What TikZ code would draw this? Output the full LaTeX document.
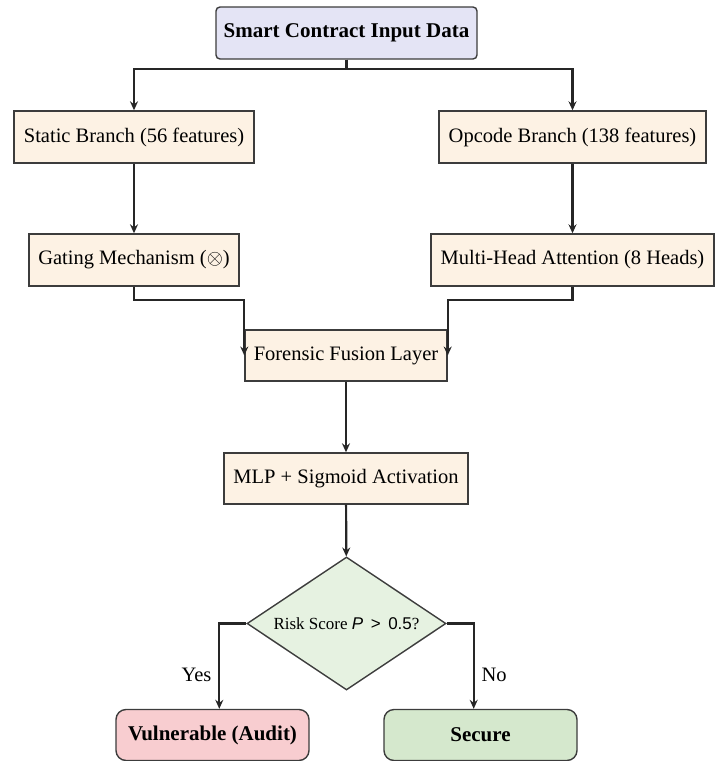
\documentclass[tikz,border=0pt]{standalone}
\usepackage{fontspec}
\setmainfont{Liberation Serif}
\setsansfont{Liberation Sans}
\usetikzlibrary{shapes.geometric,arrows.meta}
\definecolor{lav}{RGB}{228,228,245}
\definecolor{cream}{RGB}{253,242,228}
\definecolor{dgreen}{RGB}{230,242,225}
\definecolor{pinkc}{RGB}{248,205,208}
\definecolor{greenc}{RGB}{213,232,205}
\definecolor{edge}{RGB}{60,60,60}
\begin{document}
\begin{tikzpicture}[x=1pt,y=-1pt,
  box/.style={draw=edge,line width=1.4pt,fill=cream,inner sep=0pt,minimum height=52pt,font=\fontsize{20.5}{24}\selectfont},
  arr/.style={draw=black!85,line width=2.2pt,-{Stealth[length=9pt,width=8pt,inset=3pt]}},
  lbl/.style={font=\fontsize{20.5}{24}\selectfont}]
\useasboundingbox (0,0) rectangle (724,761);
\node[box,fill=lav,rounded corners=4pt,minimum width=261pt,font=\fontsize{21}{24}\selectfont\bfseries] (top) at (346.5,33) {Smart Contract Input Data};
\node[box,minimum width=240pt] (static) at (134,137) {Static Branch (56 features)};
\node[box,minimum width=267pt] (opcode) at (572.5,137) {Opcode Branch (138 features)};
\node[box,minimum width=210pt] (gate) at (134,260) {Gating Mechanism ($\otimes$)};
\node[box,minimum width=283pt] (mha) at (572.5,260) {Multi-Head Attention (8 Heads)};
\node[box,minimum width=202pt,minimum height=51pt] (fusion) at (346,355.5) {Forensic Fusion Layer};
\node[box,minimum width=244pt,minimum height=51pt] (mlp) at (346,478.5) {MLP + Sigmoid Activation};
\node[diamond,aspect=1.5,draw=edge,line width=1.4pt,fill=dgreen,inner sep=0pt,minimum width=199pt,minimum height=133pt,font=\fontsize{17}{20}\selectfont] (dec) at (346.5,623.5) {Risk Score \textsf{\textit{P} \,>\, 0.5}?};
\node[box,fill=pinkc,rounded corners=10pt,minimum width=193pt,minimum height=51pt,font=\fontsize{21}{24}\selectfont\bfseries] (vuln) at (212.5,735) {Vulnerable (Audit)};
\node[box,fill=greenc,rounded corners=10pt,minimum width=193pt,minimum height=51pt,font=\fontsize{21}{24}\selectfont\bfseries] (sec) at (480.5,735) {Secure};
\draw[arr] (top.south) -- ++(0,9) -| (static.north);
\draw[arr] (top.south) -- ++(0,9) -| (opcode.north);
\draw[arr] (static) -- (gate);
\draw[arr] (opcode) -- (mha);
\draw[arr] (gate.south) -- ++(0,13) -| (fusion.west);
\draw[arr] (mha.south) -- ++(0,13) -| (fusion.east);
\draw[arr] (fusion) -- (mlp);
\draw[arr] (mlp) -- (dec);
\draw[arr] (dec.west) -- ++(-27,0) coordinate (yb) -- (yb |- vuln.north);
\draw[arr] (dec.east) -- ++(27,0) coordinate (nb) -- (nb |- sec.north);
\node[lbl,anchor=east] (yes) at (215,675) {Yes};
\node[lbl,anchor=west] (no) at (478,675) {No};
\end{tikzpicture}
\end{document}
